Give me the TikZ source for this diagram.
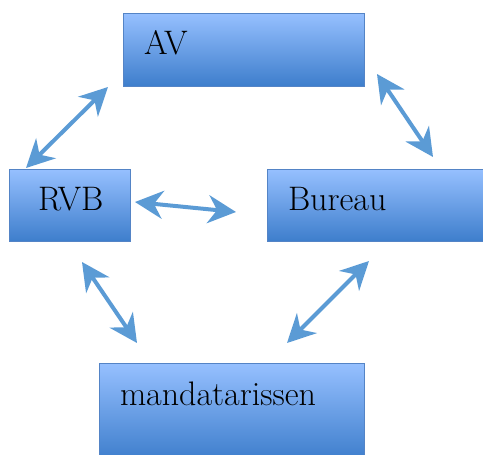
\documentclass[tikz,border=0pt]{standalone}
\usepackage{tikz}
\usetikzlibrary{arrows.meta}
\definecolor{boxtop}{RGB}{150,192,255}
\definecolor{boxbottom}{RGB}{62,126,204}
\definecolor{boxline}{RGB}{84,132,198}
\definecolor{linkblue}{RGB}{91,155,213}

\begin{document}
\begin{tikzpicture}[x=1pt,y=-1pt,
  orgbox/.style={draw=boxline,line width=1pt,top color=boxtop,bottom color=boxbottom,
    anchor=north west,inner ysep=0pt,outer sep=0pt,align=left,
    font=\fontsize{34}{40}\selectfont,text height=23pt,text depth=12pt},
  link/.style={draw=linkblue,line width=4pt,{Stealth[length=28pt,width=28pt,inset=9pt]}-{Stealth[length=28pt,width=28pt,inset=9pt]}}]
\useasboundingbox (0,0) rectangle (483,455);
\clip (0,0) rectangle (483,455);
\node[orgbox,minimum width=241pt,minimum height=73pt,inner xsep=21pt,text width=199pt] (av) at (123,13) {AV};
\node[orgbox,minimum width=121pt,minimum height=72pt,inner xsep=29pt,text width=63pt] (rvb) at (9,169) {RVB};
\node[orgbox,minimum width=230pt,minimum height=72pt,inner xsep=21pt,text width=188pt] (bureau) at (267,169) {Bureau};
\node[orgbox,minimum width=265pt,minimum height=97pt,inner xsep=21pt,text width=223pt,text depth=36pt] (mand) at (99,363) {mandatarissen};
\coordinate (avsw) at (108,87);
\coordinate (rvbn) at (26,168);
\coordinate (avse) at (377,74);
\coordinate (bureaun) at (433,157);
\coordinate (rvbe) at (135,202);
\coordinate (bureauw) at (236,212);
\coordinate (rvbs) at (82,262);
\coordinate (mandnw) at (137,343);
\coordinate (bureaus) at (369,261);
\coordinate (mandne) at (287,343);
\draw[link] (avsw) -- (rvbn);
\draw[link] (avse) -- (bureaun);
\draw[link] (rvbe) -- (bureauw);
\draw[link] (rvbs) -- (mandnw);
\draw[link] (bureaus) -- (mandne);
\end{tikzpicture}
\end{document}
